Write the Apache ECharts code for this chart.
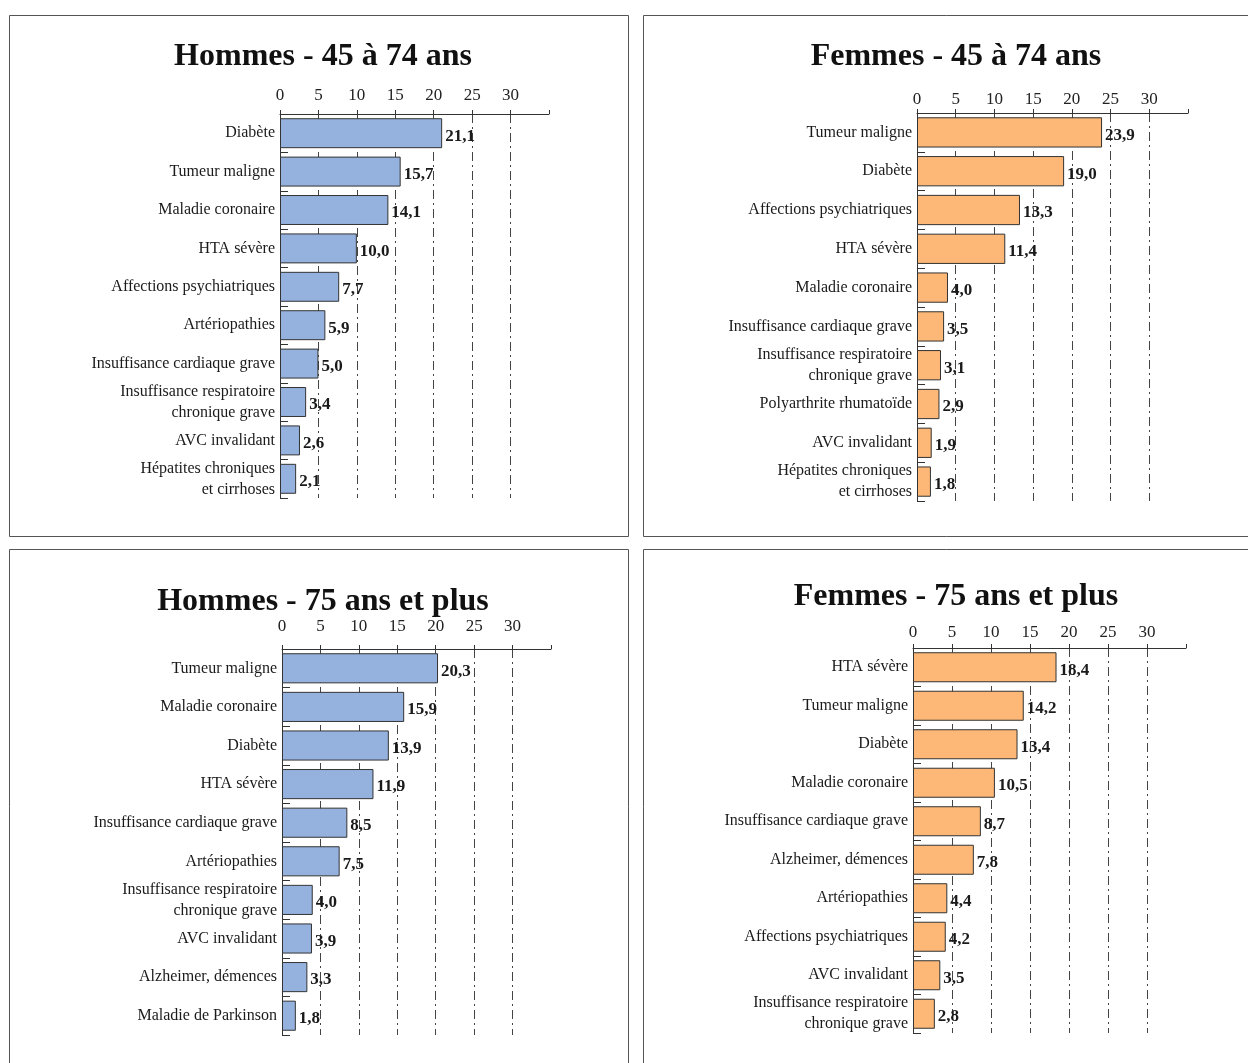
<!DOCTYPE html>
<html>
<head>
<meta charset="utf-8">
<script src="https://cdn.jsdelivr.net/npm/echarts@6/dist/echarts.min.js"></script>
<style>
html,body{margin:0;padding:0;background:#fff;}
#c{width:1248px;height:1063px;}
</style>
</head>
<body>
<div id="c"></div>
<script>
// ---- Data ----
const titles = ["Hommes - 45 à 74 ans", "Femmes - 45 à 74 ans", "Hommes - 75 ans et plus", "Femmes - 75 ans et plus"];
const tickLabels = [0, 5, 10, 15, 20, 25, 30];

const hommes4574Categories = ["Diabète", "Tumeur maligne", "Maladie coronaire", "HTA sévère", "Affections psychiatriques", "Artériopathies", "Insuffisance cardiaque grave", "Insuffisance respiratoire\nchronique grave", "AVC invalidant", "Hépatites chroniques\net cirrhoses"];
const hommes4574Values = [21.1, 15.7, 14.1, 10.0, 7.7, 5.9, 5.0, 3.4, 2.6, 2.1];

const femmes4574Categories = ["Tumeur maligne", "Diabète", "Affections psychiatriques", "HTA sévère", "Maladie coronaire", "Insuffisance cardiaque grave", "Insuffisance respiratoire\nchronique grave", "Polyarthrite rhumatoïde", "AVC invalidant", "Hépatites chroniques\net cirrhoses"];
const femmes4574Values = [23.9, 19.0, 13.3, 11.4, 4.0, 3.5, 3.1, 2.9, 1.9, 1.8];

const hommes75Categories = ["Tumeur maligne", "Maladie coronaire", "Diabète", "HTA sévère", "Insuffisance cardiaque grave", "Artériopathies", "Insuffisance respiratoire\nchronique grave", "AVC invalidant", "Alzheimer, démences", "Maladie de Parkinson"];
const hommes75Values = [20.3, 15.9, 13.9, 11.9, 8.5, 7.5, 4.0, 3.9, 3.3, 1.8];

const femmes75Categories = ["HTA sévère", "Tumeur maligne", "Diabète", "Maladie coronaire", "Insuffisance cardiaque grave", "Alzheimer, démences", "Artériopathies", "Affections psychiatriques", "AVC invalidant", "Insuffisance respiratoire\nchronique grave"];
const femmes75Values = [18.4, 14.2, 13.4, 10.5, 8.7, 7.8, 4.4, 4.2, 3.5, 2.8];

// ---- Layout / style ----
const FONT = '"Liberation Serif", "Times New Roman", serif';
const BLUE = '#95B2DE', ORANGE = '#FDB877';
const panels = [
  {cats: hommes4574Categories, vals: hommes4574Values, color: BLUE,
   box: [9, 15, 619, 521], titleX: 318, titleY: 36, grid: {left: 280, top: 114, width: 269, height: 384}, tickMargin: 10},
  {cats: femmes4574Categories, vals: femmes4574Values, color: ORANGE,
   box: [643, 15, 640, 521], titleX: 951, titleY: 36, grid: {left: 917, top: 113, width: 271, height: 388}, tickMargin: 5},
  {cats: hommes75Categories, vals: hommes75Values, color: BLUE,
   box: [9, 549, 619, 530], titleX: 318, titleY: 581, grid: {left: 282, top: 649, width: 269, height: 386}, tickMargin: 14},
  {cats: femmes75Categories, vals: femmes75Values, color: ORANGE,
   box: [643, 549, 640, 530], titleX: 951, titleY: 576, grid: {left: 913, top: 648, width: 273, height: 385}, tickMargin: 7}
];

const option = {
  animation: false,
  backgroundColor: '#fff',
  title: [], grid: [], xAxis: [], yAxis: [], series: [], graphic: []
};

panels.forEach((p, i) => {
  option.graphic.push({
    type: 'rect', shape: {x: p.box[0] + 0.5, y: p.box[1] + 0.5, width: p.box[2], height: p.box[3]},
    style: {fill: 'none', stroke: '#555', lineWidth: 1}, silent: true, z: -1
  });
  option.title.push({
    text: titles[i], left: p.titleX, top: p.titleY, textAlign: 'center',
    textStyle: {fontFamily: FONT, fontWeight: 'bold', fontSize: 32, color: '#111'}
  });
  option.grid.push(Object.assign({containLabel: false}, p.grid));
  option.xAxis.push({
    type: 'value', gridIndex: i, position: 'top', min: 0, max: 35, interval: 5,
    axisLine: {show: true, lineStyle: {color: '#333', width: 1}},
    axisTick: {show: true, length: 4, lineStyle: {color: '#333'}},
    axisLabel: {
      margin: p.tickMargin, fontFamily: FONT, fontSize: 17, color: '#222',
      formatter: v => tickLabels.indexOf(v) >= 0 ? String(v) : ''
    },
    splitLine: {show: true, showMinLine: false, showMaxLine: false,
      lineStyle: {color: '#444', width: 1, type: [9, 4, 2, 4]}}
  });
  option.yAxis.push({
    type: 'category', gridIndex: i, inverse: true, data: p.cats,
    axisLine: {show: true, lineStyle: {color: '#333', width: 1}},
    axisTick: {show: true, inside: true, length: 8, lineStyle: {color: '#333'}},
    axisLabel: {margin: 5, fontFamily: FONT, fontSize: 16, color: '#1a1a1a', lineHeight: 21}
  });
  option.series.push({
    type: 'bar', xAxisIndex: i, yAxisIndex: i, data: p.vals, barWidth: '78%',
    itemStyle: {color: p.color, borderColor: '#333', borderWidth: 1},
    label: {
      show: true, position: 'right', distance: 3, offset: [0, 3],
      fontFamily: FONT, fontWeight: 'bold', fontSize: 17, color: '#1a1a1a',
      formatter: d => d.value.toFixed(1).replace('.', ',')
    }
  });
});

const chart = echarts.init(document.getElementById('c'), null, {renderer: 'canvas'});
chart.setOption(option);
</script>
</body>
</html>
